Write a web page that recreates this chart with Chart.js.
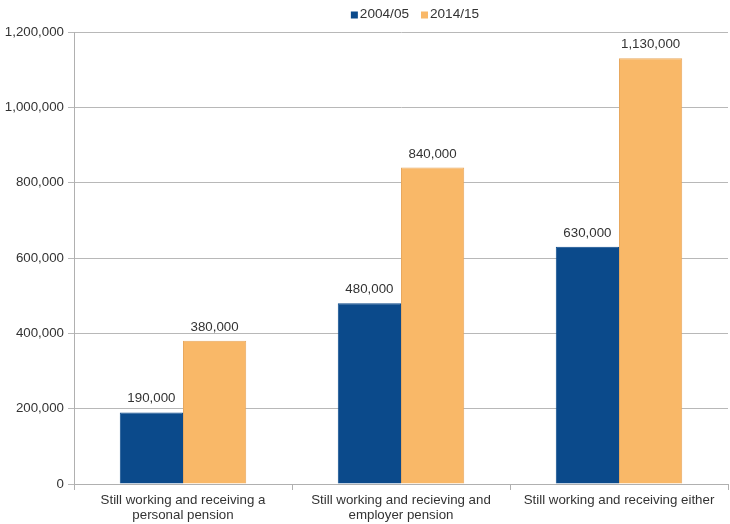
<!DOCTYPE html>
<html>
<head>
<meta charset="utf-8">
<script src="https://cdn.jsdelivr.net/npm/chart.js@4/dist/chart.umd.min.js"></script>
<style>
  html, body { margin: 0; padding: 0; background: #fff; }
  #wrap { width: 730px; height: 524px; }
</style>
</head>
<body>
<div id="wrap"><canvas id="c" width="730" height="524"></canvas></div>
<script>
const categories = [
  ["Still working and receiving a", "personal pension"],
  ["Still working and recieving and", "employer pension"],
  ["Still working and receiving either"]
];
const seriesNames = ["2004/05", "2014/15"];
const values2004 = [190000, 480000, 630000];
const values2014 = [380000, 840000, 1130000];
const seriesColors = ["#0b4a8b", "#f9b868"];
const seriesBorders = ["#0b4a8b", "#e8a85e"];

const FONT = '"Liberation Sans", Arial, sans-serif';
const fmt = v => v.toLocaleString('en-US');

// Writes each bar's value just above it
const valueLabels = {
  id: 'valueLabels',
  afterDatasetsDraw(chart) {
    const ctx = chart.ctx;
    ctx.save();
    ctx.font = '13.3px ' + FONT;
    ctx.fillStyle = '#333';
    ctx.textAlign = 'center';
    ctx.textBaseline = 'bottom';
    chart.data.datasets.forEach((ds, i) => {
      chart.getDatasetMeta(i).data.forEach((bar, j) => {
        ctx.fillText(fmt(ds.data[j]), bar.x, bar.y - 7);
      });
    });
    ctx.restore();
  }
};

// Compact legend row above the plot: small square swatch tight against its label
const compactLegend = {
  id: 'compactLegend',
  afterDraw(chart) {
    const ctx = chart.ctx;
    const box = 7, gap = 2, itemGap = 12, y = 14;
    ctx.save();
    ctx.font = '13.6px ' + FONT;
    ctx.textBaseline = 'middle';
    const items = chart.data.datasets.map(ds => ({ text: ds.label, color: ds.backgroundColor }));
    const widths = items.map(it => box + gap + ctx.measureText(it.text).width);
    const total = widths.reduce((a, b) => a + b, 0) + itemGap * (items.length - 1);
    const area = chart.chartArea;
    let x = (area.left + area.right) / 2 + 14 - total / 2;
    items.forEach((it, i) => {
      ctx.fillStyle = it.color;
      ctx.fillRect(x, y - box / 2 + 1, box, box);
      ctx.fillStyle = '#333';
      ctx.textAlign = 'left';
      ctx.fillText(it.text, x + box + gap, y);
      x += widths[i] + itemGap;
    });
    ctx.restore();
  }
};

new Chart(document.getElementById('c'), {
  type: 'bar',
  data: {
    labels: categories,
    datasets: [
      { label: seriesNames[0], data: values2004, backgroundColor: seriesColors[0], borderColor: seriesBorders[0], borderWidth: 1,
        categoryPercentage: 0.58, barPercentage: 1.0 },
      { label: seriesNames[1], data: values2014, backgroundColor: seriesColors[1], borderColor: seriesBorders[1], borderWidth: 1,
        categoryPercentage: 0.58, barPercentage: 1.0 }
    ]
  },
  options: {
    responsive: false,
    animation: false,
    devicePixelRatio: 1,
    layout: { padding: { left: 0, right: 2, top: 32, bottom: 0 } },
    plugins: {
      legend: { display: false },
      tooltip: { enabled: false }
    },
    scales: {
      x: {
        afterFit(scale) { scale.height = 40; },
        grid: { drawOnChartArea: false, drawTicks: true, tickLength: 6, offset: true, color: '#b0b0b0' },
        border: { color: '#b0b0b0' },
        ticks: {
          font: { size: 13.3, family: FONT, lineHeight: 1.12 },
          color: '#333',
          maxRotation: 0,
          padding: 3
        }
      },
      y: {
        min: 0,
        max: 1200000,
        afterFit(scale) { scale.width = 74; },
        grid: { color: '#b8b8b8', tickLength: 6 },
        border: { color: '#b0b0b0' },
        ticks: {
          stepSize: 200000,
          font: { size: 13.3, family: FONT },
          color: '#333',
          padding: 4,
          callback: v => fmt(v)
        }
      }
    }
  },
  plugins: [valueLabels, compactLegend]
});
</script>
</body>
</html>
